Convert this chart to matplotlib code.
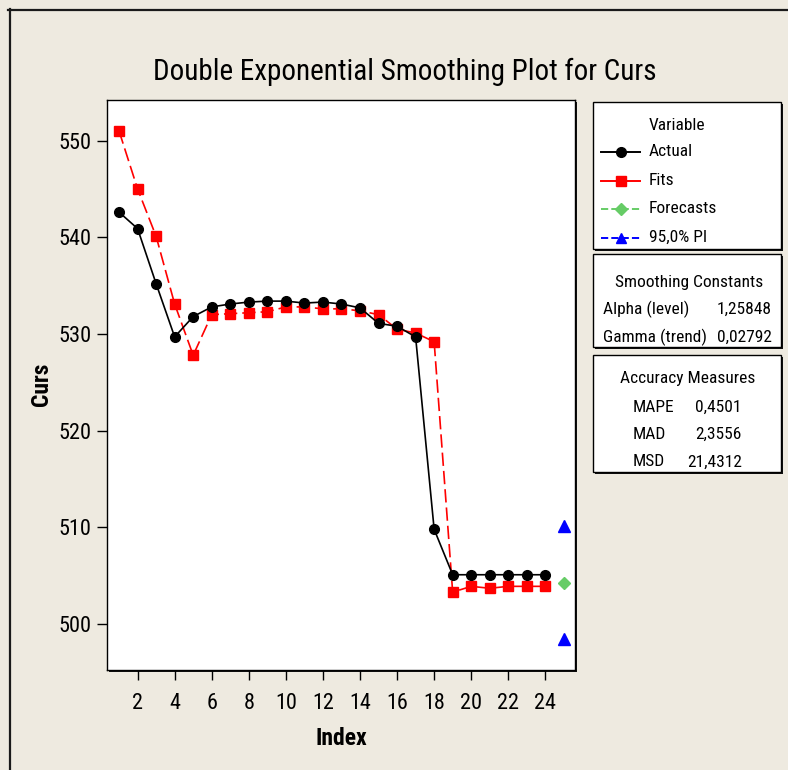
import matplotlib.pyplot as plt
import numpy as np
from matplotlib.lines import Line2D
from matplotlib.patches import Rectangle

plt.rcParams['font.family'] = ['Roboto Condensed', 'Liberation Sans', 'DejaVu Sans']

# series
index = np.arange(1, 25)
actual = [542.6, 540.9, 535.2, 529.7, 531.8, 532.8, 533.1, 533.3, 533.4, 533.4, 533.2, 533.3,
          533.1, 532.7, 531.1, 530.8, 529.7, 509.8, 505.1, 505.1, 505.1, 505.1, 505.1, 505.1]
fits = [551.0, 545.0, 540.1, 533.1, 527.8, 532.0, 532.1, 532.2, 532.3, 532.8, 532.8, 532.6,
        532.6, 532.4, 532.0, 530.5, 530.1, 529.2, 503.3, 503.9, 503.7, 503.9, 503.9, 503.9]
forecast_index = [25]
forecasts = [504.2]
pi_lower = [498.5]
pi_upper = [510.1]

# summary tables
smoothing_names = ["Alpha (level)", "Gamma (trend)"]
smoothing_values = ["1,25848", "0,02792"]
accuracy_names = ["MAPE", "MAD", "MSD"]
accuracy_values = ["0,4501", "2,3556", "21,4312"]

W, H = 788, 770
bg = '#EEEAE0'
fig = plt.figure(figsize=(W / 100, H / 100), dpi=100, facecolor=bg)


def fx(x):
    return x / W


def fy(y):
    return 1 - y / H


# outer frame (top and left edges only)
fig.add_artist(Line2D([fx(8), fx(788)], [fy(10), fy(10)], color='#1a1a1a', lw=1.6))
fig.add_artist(Line2D([fx(10), fx(10)], [fy(9), fy(770)], color='#1a1a1a', lw=1.6))

ax_l, ax_r, ax_t, ax_b = 107, 575, 100, 669.5
# drop shadow behind the plot box
fig.add_artist(Rectangle((fx(ax_l + 2), fy(ax_b + 2)), fx(ax_r - ax_l), (ax_b - ax_t) / H,
                         facecolor='#111111', edgecolor='none', zorder=0))
ax = fig.add_axes([fx(ax_l), fy(ax_b), fx(ax_r - ax_l), (ax_b - ax_t) / H])
ax.set_facecolor('white')
for s in ax.spines.values():
    s.set_linewidth(1.0)
    s.set_color('black')

ax.plot(index, actual, color='black', lw=1.2, marker='o', ms=7, zorder=3)
ax.plot(index, fits, color='red', lw=1.2, dashes=(8, 3), marker='s', ms=6.5, zorder=2)
ax.plot(forecast_index, forecasts, color='#66CC66', ls='--', marker='D', ms=6, zorder=3)
ax.plot(forecast_index, pi_upper, color='blue', ls='--', marker='^', ms=8.5, zorder=3)
ax.plot(forecast_index, pi_lower, color='blue', ls='--', marker='^', ms=8.5, zorder=3)

ax.set_xlim(0.35, 25.6)
ax.set_ylim(495.3, 554.2)
ax.set_xticks(np.arange(2, 25, 2))
ax.set_yticks([500, 510, 520, 530, 540, 550])
ax.tick_params(axis='both', direction='out', length=7, width=1, labelsize=16)
ax.tick_params(axis='x', pad=10)
ax.tick_params(axis='y', pad=4)
ax.set_xlabel('Index', fontsize=17, fontweight='bold', labelpad=9)
ax.set_ylabel('Curs', fontsize=17, fontweight='bold', labelpad=4)

fig.text(fx(405), fy(72), 'Double Exponential Smoothing Plot for Curs', fontsize=21,
         ha='center', va='center')


def panel(top, bottom):
    left, right = 593, 781
    fig.add_artist(Rectangle((fx(left + 2), fy(bottom + 2)), fx(right - left), (bottom - top) / H,
                             facecolor='#111111', edgecolor='none'))
    fig.add_artist(Rectangle((fx(left), fy(bottom)), fx(right - left), (bottom - top) / H,
                             facecolor='white', edgecolor='black', lw=1.0))


fs = 12.5

# legend panel
panel(102, 249)
fig.text(fx(649), fy(125), 'Variable', fontsize=fs, va='center')
legend_rows = [
    ('Actual', 'black', '-', 'o', 7),
    ('Fits', 'red', '-', 's', 6.5),
    ('Forecasts', '#66CC66', '--', 'D', 6),
    ('95,0% PI', 'blue', '--', '^', 7),
]
for i, (name, color, ls, mk, ms) in enumerate(legend_rows):
    y = 152 + i * 28.5
    fig.add_artist(Line2D([fx(601), fx(640)], [fy(y), fy(y)], color=color, ls=ls, lw=1.4))
    fig.add_artist(Line2D([fx(620.5)], [fy(y)], color=color, lw=0, marker=mk, ms=ms))
    fig.text(fx(649), fy(y), name, fontsize=fs, va='center')

# smoothing constants panel
panel(254, 347)
fig.text(fx(689), fy(282), 'Smoothing Constants', fontsize=fs, ha='center', va='center')
for i, (n, v) in enumerate(zip(smoothing_names, smoothing_values)):
    y = 309 + i * 28
    fig.text(fx(603), fy(y), n, fontsize=fs, va='center')
    fig.text(fx(772), fy(y), v, fontsize=fs, va='center', ha='right')

# accuracy measures panel
panel(355, 472)
fig.text(fx(688), fy(378), 'Accuracy Measures', fontsize=fs, ha='center', va='center')
for i, (n, v) in enumerate(zip(accuracy_names, accuracy_values)):
    y = 407 + i * 27.5
    fig.text(fx(633), fy(y), n, fontsize=fs, va='center')
    fig.text(fx(742), fy(y), v, fontsize=fs, va='center', ha='right')

fig.savefig('out.png', dpi=100, facecolor=bg)
